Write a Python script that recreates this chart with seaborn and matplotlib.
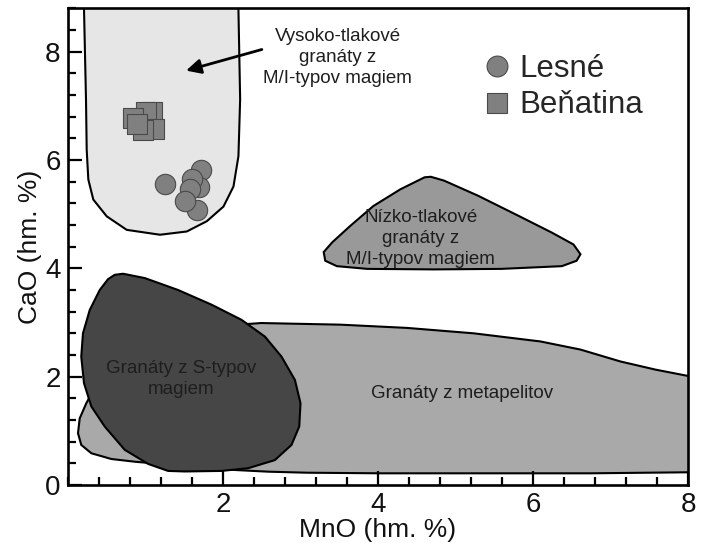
import numpy as np
import pandas as pd
import matplotlib
matplotlib.use("Agg")
import matplotlib.pyplot as plt
from matplotlib.lines import Line2D
from matplotlib.ticker import MultipleLocator
import seaborn as sns

# ---------------- data ----------------
# Lesné (circles)
lesne_mno = [1.716, 1.698, 1.600, 1.578, 1.665, 1.514, 1.259]
lesne_cao = [5.82, 5.50, 5.65, 5.47, 5.07, 5.25, 5.56]
# Beňatina (squares)
benatina_mno = [1.084, 1.006, 1.114, 0.975, 0.839, 0.898]
benatina_cao = [6.89, 6.89, 6.57, 6.55, 6.78, 6.67]

# field outlines (MnO, CaO)
metapelit_x = [0.240, 0.546, 1.320, 2.494, 3.514, 4.374, 5.234, 6.094, 6.610, 7.126, 7.577, 8.008, 8.3,
               8.3, 8.008, 6.739, 5.45, 4.03, 3.084, 2.585, 1.978, 0.865, 0.563, 0.305, 0.175, 0.133, 0.155]
metapelit_y = [1.51, 2.31, 2.87, 2.99, 2.96, 2.90, 2.80, 2.65, 2.50, 2.28, 2.13, 2.01, 1.95,
               0.23, 0.235, 0.216, 0.216, 0.216, 0.227, 0.246, 0.29, 0.43, 0.48, 0.586, 0.74, 0.956, 1.23]

stype_x = [0.714, 0.994, 1.423, 1.853, 2.240, 2.542, 2.756, 2.929, 3.001, 2.985, 2.885, 2.671, 2.326,
           1.982, 1.510, 1.294, 1.036, 0.735, 0.477, 0.305, 0.210, 0.175, 0.197, 0.284, 0.413, 0.520, 0.606]
stype_y = [3.90, 3.82, 3.60, 3.33, 3.05, 2.74, 2.37, 1.94, 1.51, 1.08, 0.74, 0.46, 0.31,
           0.26, 0.25, 0.26, 0.39, 0.65, 1.08, 1.45, 1.88, 2.37, 2.80, 3.23, 3.60, 3.80, 3.88]

vysoko_x = [0.21, 0.21, 0.236, 0.245, 0.266, 0.33, 0.503, 0.761, 1.19, 1.535, 1.794, 2.008, 2.137,
            2.201, 2.223, 2.201, 2.19]
vysoko_y = [9.33, 8.81, 7.12, 6.19, 5.64, 5.27, 4.96, 4.71, 4.62, 4.68, 4.87, 5.14, 5.51,
            6.07, 7.12, 8.78, 9.33]

nizko_x = [4.60, 4.29, 3.94, 3.64, 3.41, 3.30, 3.32, 3.47, 3.86, 4.72, 5.59, 6.37, 6.56, 6.61,
           6.52, 6.24, 5.81, 5.29, 4.85, 4.68]
nizko_y = [5.68, 5.46, 5.15, 4.78, 4.48, 4.30, 4.14, 4.04, 3.99, 3.98, 3.99, 4.04, 4.14, 4.26,
           4.44, 4.66, 4.97, 5.34, 5.62, 5.69]

x_ticks = [2, 4, 6, 8]
y_ticks = [0, 2, 4, 6, 8]
x_label = "MnO (hm. %)"
y_label = "CaO (hm. %)"
legend_labels = ["Lesné", "Beňatina"]
field_labels = {
    "vysoko": "Vysoko-tlakové\ngranáty z\nM/I-typov magiem",
    "nizko": "Nízko-tlakové\ngranáty z\nM/I-typov magiem",
    "stype": "Granáty z S-typov\nmagiem",
    "metapelit": "Granáty z metapelitov",
}

# ---------------- plot ----------------
sns.set_style("ticks")
plt.rcParams['font.family'] = ['Liberation Sans', 'DejaVu Sans']

fig = plt.figure(figsize=(7.08, 5.43), dpi=100)
ax = fig.add_axes([0.0956, 0.1068, 0.8766, 0.8779])
ax.set_axisbelow(False)

edge_lw = 1.5
ax.fill(metapelit_x, metapelit_y, facecolor="#a9a9a9", edgecolor="black", lw=edge_lw, zorder=1)
ax.fill(stype_x, stype_y, facecolor="#464646", edgecolor="black", lw=edge_lw, zorder=1.2)
ax.fill(vysoko_x, vysoko_y, facecolor="#e6e6e6", edgecolor="black", lw=edge_lw, zorder=1.1)
ax.fill(nizko_x, nizko_y, facecolor="#999999", edgecolor="black", lw=edge_lw, zorder=1.1)

df_b = pd.DataFrame({"MnO": benatina_mno, "CaO": benatina_cao})
df_l = pd.DataFrame({"MnO": lesne_mno, "CaO": lesne_cao})
sns.scatterplot(data=df_b, x="MnO", y="CaO", marker="s", s=215, color="#808080",
                edgecolor="#4a4a4a", linewidth=0.8, ax=ax, zorder=3, legend=False)
sns.scatterplot(data=df_l, x="MnO", y="CaO", marker="o", s=215, color="#808080",
                edgecolor="#4a4a4a", linewidth=0.8, ax=ax, zorder=3, legend=False)

txt_kw = dict(ha="center", va="center", fontsize=13.5, color="#1e1e1e", zorder=4,
              linespacing=1.32)
ax.text(3.48, 7.89, field_labels["vysoko"], **txt_kw)
ax.text(4.55, 4.55, field_labels["nizko"], **txt_kw)
ax.text(1.466, 1.956, field_labels["stype"], **txt_kw)
ax.text(5.08, 1.695, field_labels["metapelit"], **txt_kw)

ax.annotate("", xy=(1.526, 7.65), xytext=(2.503, 8.04),
            arrowprops=dict(arrowstyle="-|>", color="black", lw=2, mutation_scale=22,
                            shrinkA=0, shrinkB=0), zorder=4)

handles = [
    Line2D([], [], marker="o", ls="none", markersize=15, markerfacecolor="#808080",
           markeredgecolor="#4a4a4a", markeredgewidth=0.8),
    Line2D([], [], marker="s", ls="none", markersize=14.5, markerfacecolor="#808080",
           markeredgecolor="#4a4a4a", markeredgewidth=0.8),
]
ax.legend(handles, legend_labels, loc="upper left", bbox_to_anchor=(0.672, 0.905),
          frameon=False, fontsize=22.5, handlelength=0.8, handletextpad=0.3,
          labelspacing=0.22, borderpad=0, borderaxespad=0)

ax.set_xlim(0, 8)
ax.set_ylim(0, 8.8)
ax.set_xticks(x_ticks)
ax.set_yticks(y_ticks)
ax.xaxis.set_minor_locator(MultipleLocator(0.4))
ax.yaxis.set_minor_locator(MultipleLocator(0.4))
ax.tick_params(which="major", direction="in", length=10, width=1.6, labelsize=20,
               bottom=True, left=True, top=False, right=False, pad=5,
               color="black", labelcolor="#111111")
ax.tick_params(which="minor", direction="in", length=6, width=1.6,
               bottom=True, left=True, top=False, right=False, color="black")
ax.set_xlabel(x_label, fontsize=19, labelpad=0, color="#111111")
ax.set_ylabel(y_label, fontsize=19, labelpad=2, color="#111111")
for sp in ax.spines.values():
    sp.set_visible(True)
    sp.set_linewidth(1.9)
    sp.set_color("black")
    sp.set_zorder(5)

fig.savefig("out.png", dpi=100)
